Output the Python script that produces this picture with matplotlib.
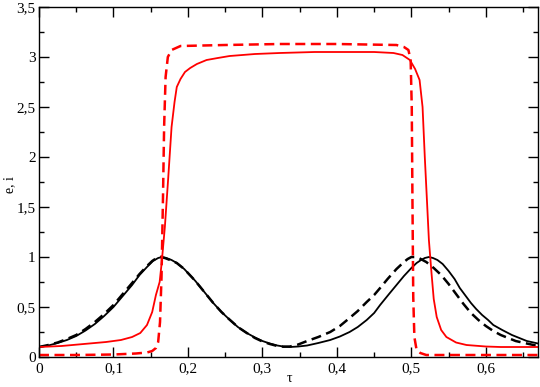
import matplotlib.pyplot as plt
from matplotlib.ticker import MultipleLocator, FuncFormatter

# black solid curve
tau_e1 = [0, 0.0125, 0.025, 0.0375, 0.05, 0.0625, 0.075, 0.0875, 0.1, 0.1125, 0.125,
          0.135, 0.145, 0.153, 0.16, 0.165, 0.171, 0.178, 0.185, 0.195, 0.21, 0.222,
          0.234, 0.245, 0.255, 0.267, 0.279, 0.29, 0.30, 0.31, 0.32, 0.328, 0.337,
          0.348, 0.36, 0.375, 0.391, 0.404, 0.417, 0.428, 0.44, 0.45, 0.458, 0.47,
          0.48, 0.49, 0.50, 0.507, 0.513, 0.518, 0.5235, 0.529, 0.535, 0.542, 0.55,
          0.558, 0.565, 0.572, 0.58, 0.587, 0.595, 0.603, 0.61, 0.622, 0.635, 0.645,
          0.655, 0.67]
e1 = [0.10, 0.115, 0.14, 0.17, 0.21, 0.265, 0.33, 0.41, 0.50, 0.61, 0.72,
      0.82, 0.90, 0.96, 0.99, 1.00, 0.99, 0.97, 0.94, 0.88, 0.76, 0.65,
      0.54, 0.45, 0.38, 0.30, 0.24, 0.195, 0.16, 0.135, 0.115, 0.105, 0.10,
      0.105, 0.115, 0.14, 0.17, 0.205, 0.25, 0.30, 0.37, 0.44, 0.52, 0.63,
      0.72, 0.81, 0.89, 0.94, 0.97, 0.99, 1.00, 0.99, 0.97, 0.93, 0.86,
      0.78, 0.69, 0.62, 0.54, 0.48, 0.42, 0.37, 0.32, 0.27, 0.22, 0.19,
      0.16, 0.135]

# black dashed curve
tau_e2 = [0, 0.0125, 0.025, 0.0375, 0.05, 0.0625, 0.075, 0.0875, 0.1, 0.1125, 0.125,
          0.135, 0.145, 0.152, 0.158, 0.163, 0.169, 0.176, 0.185, 0.195, 0.21, 0.222,
          0.234, 0.245, 0.255, 0.267, 0.279, 0.29, 0.30, 0.31, 0.32, 0.328, 0.337,
          0.348, 0.36, 0.375, 0.391, 0.404, 0.417, 0.428, 0.44, 0.45, 0.458, 0.468,
          0.48, 0.49, 0.495, 0.50, 0.505, 0.51, 0.52, 0.53, 0.54, 0.55, 0.56, 0.57,
          0.58, 0.59, 0.60, 0.61, 0.62, 0.63, 0.64, 0.655, 0.67]
e2 = [0.10, 0.12, 0.145, 0.18, 0.22, 0.28, 0.35, 0.43, 0.52, 0.63, 0.74,
      0.83, 0.91, 0.96, 0.99, 1.00, 0.99, 0.97, 0.94, 0.88, 0.76, 0.65,
      0.54, 0.45, 0.38, 0.30, 0.24, 0.19, 0.155, 0.13, 0.11, 0.103, 0.105,
      0.125, 0.16, 0.20, 0.25, 0.31, 0.39, 0.46, 0.55, 0.62, 0.69, 0.78,
      0.88, 0.95, 0.98, 1.00, 1.00, 0.99, 0.95, 0.89, 0.82, 0.73, 0.63, 0.53,
      0.44, 0.37, 0.31, 0.26, 0.22, 0.19, 0.16, 0.135, 0.11]

# red solid curve
tau_i1 = [0, 0.03, 0.06, 0.09, 0.11, 0.125, 0.136, 0.145, 0.152, 0.157, 0.162, 0.1647,
          0.169, 0.1736, 0.178, 0.182, 0.185, 0.19, 0.196, 0.203, 0.212, 0.225, 0.24,
          0.256, 0.29, 0.323, 0.37, 0.413, 0.45, 0.476, 0.488, 0.498, 0.505, 0.511,
          0.515, 0.518, 0.521, 0.5235, 0.527, 0.530, 0.534, 0.540, 0.547, 0.56, 0.574,
          0.60, 0.62, 0.67]
i1 = [0.10, 0.11, 0.13, 0.15, 0.17, 0.20, 0.24, 0.32, 0.45, 0.62, 0.75, 0.94,
      1.30, 1.80, 2.30, 2.55, 2.70, 2.78, 2.85, 2.89, 2.93, 2.97, 2.99,
      3.01, 3.03, 3.04, 3.05, 3.05, 3.05, 3.04, 3.02, 2.97, 2.88, 2.77,
      2.50, 2.00, 1.55, 1.17, 0.84, 0.58, 0.40, 0.27, 0.20, 0.145, 0.12,
      0.105, 0.10, 0.10]

# red dashed curve
tau_i2 = [0, 0.05, 0.10, 0.13, 0.145, 0.152, 0.157, 0.160, 0.1625, 0.1645, 0.1665,
          0.168, 0.170, 0.173, 0.178, 0.19, 0.25, 0.323, 0.40, 0.48, 0.49, 0.496,
          0.499, 0.5005, 0.5015, 0.5025, 0.504, 0.507, 0.512, 0.52, 0.67]
i2 = [0.02, 0.02, 0.025, 0.035, 0.045, 0.06, 0.09, 0.15, 0.35, 0.80, 1.60,
      2.30, 2.80, 3.00, 3.07, 3.11, 3.12, 3.13, 3.13, 3.12, 3.10, 3.07,
      2.97, 2.50, 1.50, 0.60, 0.20, 0.07, 0.04, 0.02, 0.02]

plt.rcParams['font.family'] = ['Liberation Serif', 'DejaVu Serif']
fig = plt.figure(figsize=(5.40, 3.87), dpi=100)
ax = fig.add_axes([0.0722, 0.0775, 0.9241, 0.9044])

ax.plot(tau_e1, e1, color='black', lw=1.3)
ax.plot(tau_e2, e2, color='black', lw=1.8, dashes=(4, 2.2))
ax.plot(tau_i1, i1, color='red', lw=1.3)
ax.plot(tau_i2, i2, color='red', lw=1.8, dashes=(4, 2.2))

ax.set_xlim(0, 0.67)
ax.set_ylim(0, 3.5)
ax.xaxis.set_major_locator(MultipleLocator(0.1))
ax.xaxis.set_minor_locator(MultipleLocator(0.05))
ax.yaxis.set_major_locator(MultipleLocator(0.5))
ax.yaxis.set_minor_locator(MultipleLocator(0.25))

fmt = FuncFormatter(lambda v, p: ('%g' % round(v, 2)).replace('.', ','))
ax.xaxis.set_major_formatter(fmt)
ax.yaxis.set_major_formatter(fmt)

ax.tick_params(which='both', direction='in', top=True, right=True, labelsize=11, width=1)
ax.tick_params(axis='x', pad=4)
ax.tick_params(axis='y', pad=2.5)
ax.tick_params(which='major', length=7)
ax.tick_params(which='minor', length=3.6)
for s in ax.spines.values():
    s.set_linewidth(1)

# axis titles placed by hand so they fit in the small figure
fig.text(289 / 540, 1 - 378 / 387, 'τ', fontsize=10, ha='center', va='center')
fig.text(10 / 540, 1 - 185 / 387, 'e, i', fontsize=10, rotation=90, ha='center', va='center')

fig.savefig('out.png', dpi=100)
